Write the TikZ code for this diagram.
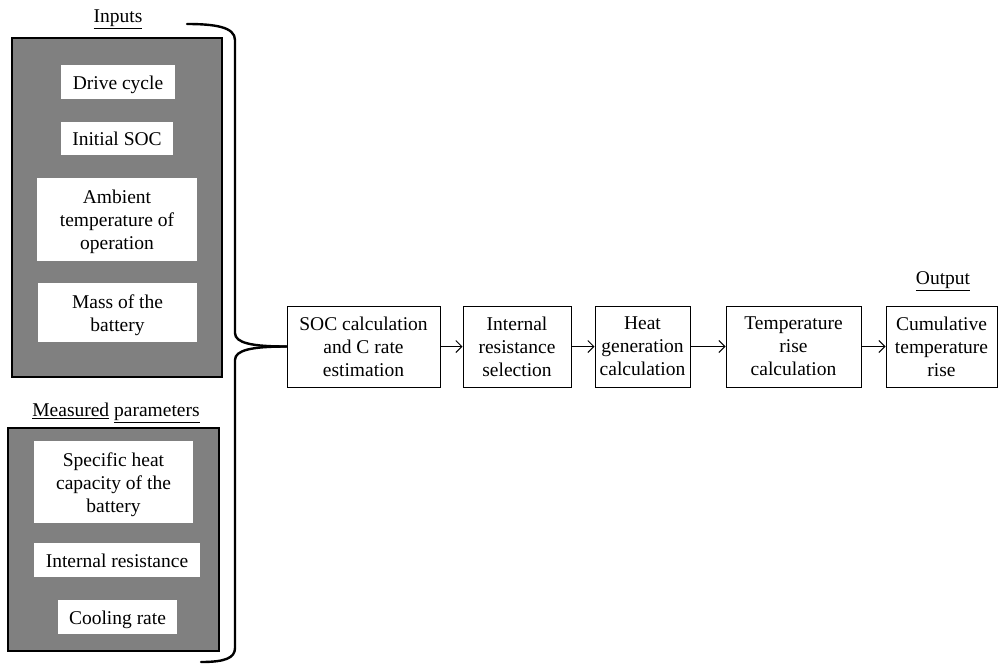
\documentclass[tikz,border=0pt]{standalone}
\usepackage{fontspec}
\setmainfont{Liberation Serif}
\usetikzlibrary{arrows.meta}
\newcommand\lowtxt[1]{\raisebox{-2.5pt}[\height][\depth]{\begin{tabular}{@{}c@{}}#1\end{tabular}}}
\begin{document}
\begin{tikzpicture}[x=1pt,y=-1pt,
  every node/.style={font=\fontsize{19.5}{23}\selectfont, align=center, inner sep=0pt},
  darkbox/.style={draw=black, line width=2.4pt, fill=black!50},
  whitebox/.style={fill=white},
  procbox/.style={draw=black, line width=1pt, fill=white},
  flow/.style={draw=black, line width=1pt, -{Straight Barb[length=6pt,width=12pt,line width=1pt]}},
  brace/.style={draw=black, line width=2.4pt, line cap=round}]
\useasboundingbox (0,0) rectangle (998,665);
% inputs group
\node (inlabel) at (118,19.5) {\underline{Inputs}};
\node[darkbox, minimum width=210pt, minimum height=339pt] (inbox) at (117,207.5) {};
\node[whitebox, minimum width=114pt, minimum height=34pt] (drive) at (118,82) {\lowtxt{Drive cycle}};
\node[whitebox, minimum width=112pt, minimum height=33pt] (initsoc) at (117,138.5) {\lowtxt{Initial SOC}};
\node[whitebox, minimum width=160pt, minimum height=83pt] (ambient) at (117,219.5) {\lowtxt{Ambient\\temperature of\\operation}};
\node[whitebox, minimum width=159pt, minimum height=59pt] (mass) at (117.5,312.5) {\lowtxt{Mass of the\\battery}};
% measured group
\node (measlabel) at (116,412.5) {\underline{Measured} \underline{parameters}};
\node[darkbox, minimum width=211pt, minimum height=223pt] (measbox) at (113.5,539.5) {};
\node[whitebox, minimum width=159pt, minimum height=82pt] (spec) at (113.5,482) {\lowtxt{Specific heat\\capacity of the\\battery}};
\node[whitebox, minimum width=166pt, minimum height=34pt] (intres) at (117,560) {\lowtxt{Internal resistance}};
\node[whitebox, minimum width=119pt, minimum height=34pt] (cooling) at (117.5,617) {\lowtxt{Cooling rate}};
% process chain
\node[procbox, minimum width=153pt, minimum height=81pt] (soc) at (363.5,346.5) {SOC calculation\\and C rate\\estimation};
\node[procbox, minimum width=108pt, minimum height=81pt] (irs) at (517,346.5) {Internal\\resistance\\selection};
\node[procbox, minimum width=95pt, minimum height=81pt] (heat) at (642.5,346.5) {Heat\\generation\\calculation};
\node[procbox, minimum width=135pt, minimum height=81pt] (temp) at (793.5,346.5) {Temperature\\rise\\calculation};
\node[procbox, minimum width=111pt, minimum height=81pt] (cum) at (941.5,346.5) {Cumulative\\temperature\\rise};
\node (outlabel) at (943,281.5) {\underline{Output}};
\draw[flow] (soc) -- (irs);
\draw[flow] (irs) -- (heat);
\draw[flow] (heat) -- (temp);
\draw[flow] (temp) -- (cum);
% brace
\coordinate (btop) at (187,24);
\coordinate (bbot) at (201,662);
\coordinate (btip) at (soc.west);
\draw[brace] (btop) .. controls (215,24) and (235,27) .. (235,40)
  -- (235,333) .. controls (235,343) and (252,346.5) .. (btip);
\draw[brace] (btip) .. controls (252,346.5) and (235,350) .. (235,360)
  -- (235,648) .. controls (235,658) and (225,662) .. (bbot);
\end{tikzpicture}
\end{document}
